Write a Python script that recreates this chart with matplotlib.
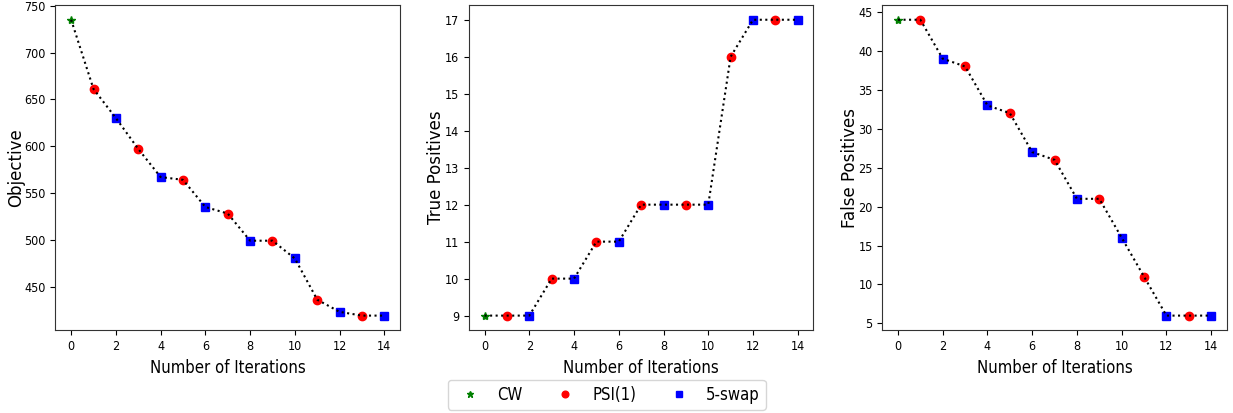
import numpy as np
import matplotlib.pyplot as plt

iterations = np.arange(15)
objective = [735, 661, 630, 597, 567, 564, 535, 528, 499, 499, 480, 436, 423, 419, 419]
true_pos = [9, 9, 9, 10, 10, 11, 11, 12, 12, 12, 12, 16, 17, 17, 17]
false_pos = [44, 44, 39, 38, 33, 32, 27, 26, 21, 21, 16, 11, 6, 6, 6]

# which method produced each iteration: CW start, then PSI(1) / 5-swap alternating
method = ['CW'] + ['PSI(1)' if i % 2 == 1 else '5-swap' for i in range(1, 15)]
styles = {
    'CW': dict(marker='*', color='green', ms=6),
    'PSI(1)': dict(marker='o', color='red', ms=6),
    '5-swap': dict(marker='s', color='blue', ms=5.5),
}

plt.rcParams['font.stretch'] = 'condensed'

fig, axes = plt.subplots(1, 3, figsize=(12.33, 4.13), dpi=100)
series = [(objective, 'Objective'), (true_pos, 'True Positives'), (false_pos, 'False Positives')]

for ax, (vals, label) in zip(axes, series):
    vals = np.array(vals)
    for name, st in styles.items():
        idx = [i for i, m in enumerate(method) if m == name]
        ax.plot(iterations[idx], vals[idx], ls='none', marker=st['marker'],
                color=st['color'], ms=st['ms'], label=name, zorder=2)
    ax.plot(iterations, vals, 'k:', lw=1.5, zorder=3)
    ax.set_xticks(range(0, 15, 2))
    ax.set_xlabel('Number of Iterations', fontsize=12)
    ax.set_ylabel(label, fontsize=12, fontstretch='normal', labelpad=-0.5)
    ax.tick_params(labelsize=9)
    for sp in ax.spines.values():
        sp.set_color('#333333')

axes[0].set_yticks([450, 500, 550, 600, 650, 700, 750])

handles, labels = axes[0].get_legend_handles_labels()
fig.legend(handles, labels, loc='lower center', ncol=3, fontsize=12,
           markerscale=0.8, columnspacing=1.6, handletextpad=0.6,
           borderpad=0.35, bbox_to_anchor=(0.492, -0.012))

plt.subplots_adjust(left=0.045, right=0.995, top=0.988, bottom=0.2, wspace=0.2)
plt.savefig('out.png')
